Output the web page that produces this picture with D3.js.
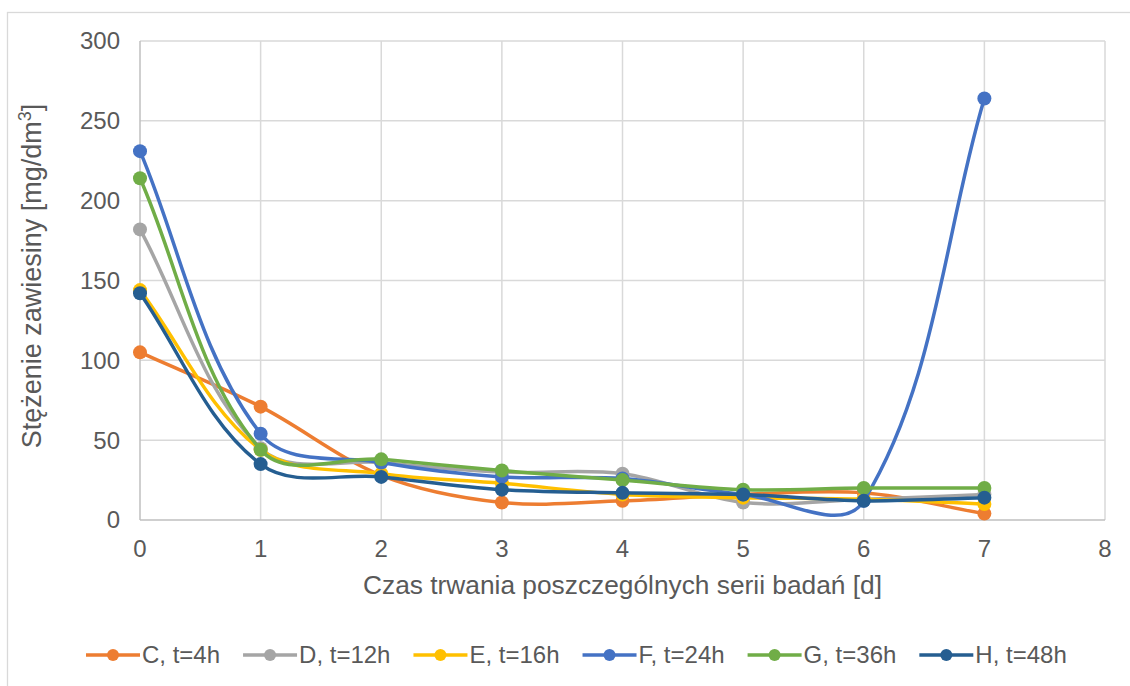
<!DOCTYPE html>
<html><head><meta charset="utf-8">
<script src="https://cdn.jsdelivr.net/npm/d3@7"></script>
<style>
html,body{margin:0;padding:0;background:#fff;}
svg{display:block;font-family:"Liberation Sans",Arial,sans-serif;}
</style></head>
<body>
<svg id="chart" width="1130" height="686"></svg>
<script>
const days = [0, 1, 2, 3, 4, 5, 6, 7];
const seriesNames = ["C, t=4h", "D, t=12h", "E, t=16h", "F, t=24h", "G, t=36h", "H, t=48h"];
const seriesC = [105, 71, 28, 11, 12, 16, 17, 4];
const seriesD = [182, 45, 36, 30, 29, 11, 13, 16];
const seriesE = [144, 44, 29, 23, 16, 14, 13, 10];
const seriesF = [231, 54, 36, 27, 26, 16, 12, 264];
const seriesG = [214, 44, 38, 31, 25, 19, 20, 20];
const seriesH = [142, 35, 27, 19, 17, 16, 12, 14];
const seriesColors = ["#ED7D31", "#A5A5A5", "#FFC000", "#4472C4", "#70AD47", "#255E91"];
const xTicks = [0, 1, 2, 3, 4, 5, 6, 7, 8];
const yTicks = [0, 50, 100, 150, 200, 250, 300];
const xTitle = "Czas trwania poszczególnych serii badań [d]";
const yTitleMain = "Stężenie zawiesiny [mg/dm";
const yTitleSup = "3";
const yTitleEnd = "]";

const allSeries = [seriesC, seriesD, seriesE, seriesF, seriesG, seriesH];

const svg = d3.select("#chart");
const x = d3.scaleLinear().domain([0, 8]).range([140, 1105]);
const y = d3.scaleLinear().domain([0, 300]).range([520, 41]);

// outer chart border
svg.append("rect").attr("x", 7.5).attr("y", 12.5).attr("width", 1140).attr("height", 700)
  .attr("fill", "none").attr("stroke", "#d9d9d9").attr("stroke-width", 1.3);

// gridlines
const grid = svg.append("g");
grid.selectAll("line.h").data(yTicks.filter(d => d > 0)).join("line")
  .attr("x1", x(0)).attr("x2", x(8)).attr("y1", d => y(d)).attr("y2", d => y(d))
  .attr("stroke", "#d9d9d9").attr("stroke-width", 1.5);
grid.selectAll("line.v").data(xTicks.filter(d => d > 0)).join("line")
  .attr("x1", d => x(d)).attr("x2", d => x(d)).attr("y1", y(0)).attr("y2", y(300))
  .attr("stroke", "#d9d9d9").attr("stroke-width", 1.5);

// axes lines
svg.append("line").attr("x1", x(0)).attr("x2", x(0)).attr("y1", y(0)).attr("y2", y(300))
  .attr("stroke", "#bfbfbf").attr("stroke-width", 1.5);
svg.append("line").attr("x1", x(0)).attr("x2", x(8)).attr("y1", y(0)).attr("y2", y(0))
  .attr("stroke", "#bfbfbf").attr("stroke-width", 1.5);

// tick labels
svg.append("g").selectAll("text").data(yTicks).join("text")
  .attr("x", 120).attr("y", d => y(d)).attr("dy", "0.35em")
  .attr("text-anchor", "end").attr("font-size", 24).attr("fill", "#595959")
  .text(d => d);
svg.append("g").selectAll("text").data(xTicks).join("text")
  .attr("x", d => x(d)).attr("y", 557)
  .attr("text-anchor", "middle").attr("font-size", 24).attr("fill", "#595959")
  .text(d => d);

// axis titles
svg.append("text").attr("x", (x(0) + x(8)) / 2).attr("y", 594)
  .attr("text-anchor", "middle").attr("font-size", 26.3).attr("fill", "#595959")
  .text(xTitle);
const yt = svg.append("text").attr("transform", "translate(41," + 276 + ") rotate(-90)")
  .attr("text-anchor", "middle").attr("font-size", 27).attr("fill", "#595959");
yt.append("tspan").text(yTitleMain);
yt.append("tspan").attr("font-size", 18).attr("dy", -10).text(yTitleSup);
yt.append("tspan").attr("dy", 10).text(yTitleEnd);

// Excel-like smoothing
function smoothPath(pts) {
  const p = d3.path();
  const dist = (a, b) => Math.hypot(b[0] - a[0], b[1] - a[1]);
  p.moveTo(pts[0][0], pts[0][1]);
  for (let i = 0; i < pts.length - 1; i++) {
    const p0 = pts[i - 1] || pts[i], p1 = pts[i], p2 = pts[i + 1], p3 = pts[i + 2] || pts[i + 1];
    const d12 = dist(p1, p2), d02 = dist(p0, p2), d13 = dist(p1, p3);
    const f1 = d02 > 0 ? d12 / d02 / 3 : 0;
    const f2 = d13 > 0 ? d12 / d13 / 3 : 0;
    const c1 = [p1[0] + (p2[0] - p0[0]) * f1, p1[1] + (p2[1] - p0[1]) * f1];
    const c2 = [p2[0] - (p3[0] - p1[0]) * f2, p2[1] - (p3[1] - p1[1]) * f2];
    p.bezierCurveTo(c1[0], c1[1], c2[0], c2[1], p2[0], p2[1]);
  }
  return p.toString();
}

const plot = svg.append("g");
allSeries.forEach((vals, si) => {
  const pts = vals.map((v, i) => [x(days[i]), y(v)]);
  const g = plot.append("g");
  g.append("path").attr("d", smoothPath(pts)).attr("fill", "none")
    .attr("stroke", seriesColors[si]).attr("stroke-width", 3.5).attr("stroke-linejoin", "round");
  g.selectAll("circle").data(vals).join("circle")
    .attr("cx", (d, i) => x(days[i])).attr("cy", d => y(d)).attr("r", 7)
    .attr("fill", seriesColors[si]);
});

// legend
const legend = svg.append("g");
let lx = 86;
const ly = 655;
seriesNames.forEach((name, si) => {
  const g = legend.append("g");
  g.append("line").attr("x1", lx).attr("x2", lx + 54).attr("y1", ly).attr("y2", ly)
    .attr("stroke", seriesColors[si]).attr("stroke-width", 3.5);
  g.append("circle").attr("cx", lx + 27).attr("cy", ly).attr("r", 6).attr("fill", seriesColors[si]);
  const t = g.append("text").attr("x", lx + 56).attr("y", ly).attr("dy", "0.35em")
    .attr("font-size", 24).attr("fill", "#595959").text(name);
  lx += 56 + t.node().getComputedTextLength() + 23;
});
</script>
</body></html>
